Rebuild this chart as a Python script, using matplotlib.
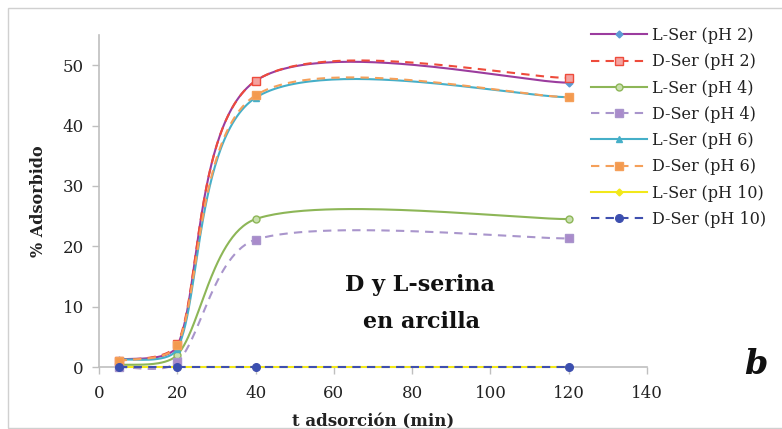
import numpy as np
import matplotlib
matplotlib.use("Agg")
import matplotlib.pyplot as plt
from matplotlib.patches import Rectangle

# ---- data ----
t_min = [5, 20, 40, 120]
labels = ["L-Ser (pH 2)", "D-Ser (pH 2)", "L-Ser (pH 4)", "D-Ser (pH 4)",
          "L-Ser (pH 6)", "D-Ser (pH 6)", "L-Ser (pH 10)", "D-Ser (pH 10)"]
l_ph2 = [1.2, 3.5, 47.4, 47.1]
d_ph2 = [1.0, 3.8, 47.4, 47.9]
l_ph4 = [0.3, 2.0, 24.5, 24.5]
d_ph4 = [0.0, 0.8, 21.1, 21.3]
l_ph6 = [1.2, 3.0, 44.6, 44.7]
d_ph6 = [1.0, 3.6, 45.0, 44.7]
l_ph10 = [0.0, 0.0, 0.0, 0.0]
d_ph10 = [0.0, 0.0, 0.0, 0.0]
series = [l_ph2, d_ph2, l_ph4, d_ph4, l_ph6, d_ph6, l_ph10, d_ph10]

colors = ["#9B3C9E", "#EE4B3B", "#8DB657", "#A995CC",
          "#45AFC8", "#F5A05A", "#F2E81A", "#3F4FAF"]
mfc = ["#5B9BD5", "#F4A3A0", "#C9E0AE", "#A98BCB",
       "#45AFC8", "#F39A4F", "#F2E81A", "#3A4FB0"]
markers = ["D", "s", "o", "s", "^", "s", "D", "o"]
msizes = [3.5, 6, 5, 5.5, 5, 5.5, 3.5, 5.5]
styles = ["-", "--", "-", "--", "-", "--", "-", "--"]

SX, SY = 3.915, 6.04  # pixel scale used for smoothing


def excel_smooth(x, y, n=60):
    P = np.column_stack([np.asarray(x, float) * SX, np.asarray(y, float) * SY])
    m = len(P)
    out = [P[0]]
    idx = [0]
    for i in range(m - 1):
        p0 = P[i - 1] if i > 0 else P[i]
        p1, p2 = P[i], P[i + 1]
        p3 = P[i + 2] if i + 2 < m else P[i + 1]
        d01 = np.linalg.norm(p1 - p0)
        d12 = np.linalg.norm(p2 - p1)
        d23 = np.linalg.norm(p3 - p2)
        f1 = min(1 / 6, d12 / (d01 + d12) / 3) if d01 + d12 > 0 else 0
        f2 = min(1 / 6, d12 / (d12 + d23) / 3) if d12 + d23 > 0 else 0
        c1 = p1 + (p2 - p0) * f1
        c2 = p2 - (p3 - p1) * f2
        tt = np.linspace(0, 1, n)[1:, None]
        seg = ((1 - tt) ** 3) * p1 + 3 * ((1 - tt) ** 2) * tt * c1 + \
            3 * (1 - tt) * tt ** 2 * c2 + tt ** 3 * p2
        out.extend(seg)
        idx.append(len(out) - 1)
    out = np.array(out)
    return out[:, 0] / SX, out[:, 1] / SY, idx


fig = plt.figure(figsize=(7.82, 4.29), dpi=100)
fig.patches.append(Rectangle((8 / 782, 1.5 / 429), 1.2, (429 - 8 - 1.5) / 429,
                             transform=fig.transFigure, fill=False,
                             edgecolor="#D0D0D0", linewidth=1.0))
ax = fig.add_axes([99 / 782, 1 - 367 / 429, (647 - 99) / 782, (367 - 35) / 429])

serif = "DejaVu Serif"
handles = []
order = [7, 6, 5, 4, 3, 2, 1, 0]
for i in order:
    xs, ys, idx = excel_smooth(t_min, series[i])
    ln, = ax.plot(xs, ys, linestyle=styles[i], color=colors[i], linewidth=1.5,
                  marker=markers[i], markevery=idx, markersize=msizes[i],
                  markerfacecolor=mfc[i], markeredgecolor=colors[i] if i != 0 else "#5B9BD5",
                  markeredgewidth=1.0, label=labels[i], clip_on=False,
                  dashes=(4, 3) if styles[i] == "--" else (None, None), zorder=3 + i)
    handles.append((i, ln))
handles = [h for _, h in sorted(handles, key=lambda z: z[0])]

ax.set_xlim(0, 140)
ax.set_ylim(0, 55)
ax.set_xticks([0, 20, 40, 60, 80, 100, 120, 140])
ax.set_yticks([0, 10, 20, 30, 40, 50])
for s in ["top", "right"]:
    ax.spines[s].set_visible(False)
for s in ["left", "bottom"]:
    ax.spines[s].set_color("#BFBFBF")
    ax.spines[s].set_linewidth(1.2)
ax.tick_params(axis="both", colors="#BFBFBF", length=5, width=1.0,
               labelcolor="#222222", labelsize=12, pad=6)
ax.tick_params(axis="x", pad=8)
for lab in ax.get_xticklabels() + ax.get_yticklabels():
    lab.set_family(serif)

ax.set_ylabel("% Adsorbido", fontfamily=serif, fontweight="bold", fontsize=11.5,
              color="#222222", labelpad=11)
ax.set_xlabel("t adsorción (min)", fontfamily=serif, fontweight="bold", fontsize=12,
              color="#222222", labelpad=8)

fig.text(420 / 782, 1 - 285 / 429, "D y L-serina", fontfamily=serif, fontweight="bold",
         fontsize=16, ha="center", va="center", color="#111111")
fig.text(422 / 782, 1 - 322 / 429, "en arcilla", fontfamily=serif, fontweight="bold",
         fontsize=16, ha="center", va="center", color="#111111")
fig.text(756 / 782, 1 - 364 / 429, "b", fontfamily=serif, fontweight="bold",
         style="italic", fontsize=24, ha="center", va="center", color="#111111")

leg = fig.legend(handles=handles, loc="upper left",
                 bbox_to_anchor=(591 / 782, 1 - 27 / 429), frameon=False,
                 prop={"family": serif, "size": 11.5}, handlelength=3.5,
                 handletextpad=0.35, labelspacing=0.58, borderaxespad=0,
                 borderpad=0, numpoints=1)
for t in leg.get_texts():
    t.set_color("#222222")

fig.savefig("out.png", dpi=100)
